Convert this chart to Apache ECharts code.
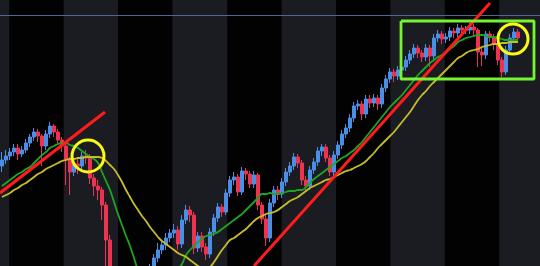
<!DOCTYPE html>
<html>
<head>
<meta charset="utf-8">
<style>
html,body{margin:0;padding:0;background:#020203;}
#c{width:540px;height:266px;}
</style>
<script src="https://cdn.jsdelivr.net/npm/echarts@6/dist/echarts.min.js"></script>
</head>
<body>
<div id="c"></div>
<script>
// ---- data ----
// period labels (one per weekly bar slot)
const categories = Array.from({length: 135}, (_, i) => 'W' + (i + 1));

// candles: [open, close, low, high]
const candles = [
[234,240,228,248],[240,244,236,250],[244,248,240,252],[248,252,244,256],[252,246,240,256],
[246,250,243,254],[250,257,247,261],[257,263,253,266],[263,268,259,272],[268,264,258,271],
[264,254,234,266],[254,266,250,270],[266,274,262,278],[274,268,263,276],[268,260,256,271],
[260,254,248,263],[254,240,215,256],[240,228,205,243],[228,236,224,240],[236,234,226,242],
[234,244,230,248],[244,242,236,250],[242,222,216,246],[222,214,204,226],[214,210,200,220],
[210,195,180,213],[195,160,120,198],[160,115,100,165],[115,100,90,120],[100,80,70,105],
[80,70,60,85],[70,60,50,75],[60,65,55,72],[65,80,60,85],[80,90,75,95],
[90,100,85,105],[100,110,95,116],[110,125,105,136],[125,142,120,146],[142,150,138,157],
[150,155,146,160],[155,162,150,167],[162,167,158,171],[167,170,162,176],[170,156,150,174],
[156,180,152,185],[180,190,176,195],[190,185,178,194],[185,152,146,188],[152,164,148,168],
[164,153,148,168],[153,146,140,157],[146,168,142,172],[168,182,164,186],[182,193,178,197],
[193,188,183,196],[188,207,185,211],[207,220,203,224],[220,223,215,228],[223,208,204,226],
[208,229,205,233],[229,226,220,232],[226,216,212,229],[216,225,212,229],[225,195,190,227],
[195,181,176,198],[181,162,154,185],[162,197,158,201],[197,210,193,214],[210,206,200,214],
[206,218,202,222],[218,228,214,232],[228,234,224,238],[234,243,230,247],[243,237,232,246],
[237,220,215,240],[220,214,208,224],[214,230,210,234],[230,238,226,242],[238,249,234,253],
[249,253,244,256],[253,242,238,256],[242,228,224,245],[228,245,224,249],[245,255,241,259],
[255,266,251,270],[266,272,262,276],[272,282,268,286],[282,294,278,298],[294,296,290,300],
[296,286,280,299],[286,301,282,305],[301,297,292,305],[297,302,293,306],[302,296,290,305],
[296,312,292,316],[312,321,308,325],[321,328,317,332],[328,324,318,331],[324,330,320,334],
[330,333,326,337],[333,340,329,344],[340,346,336,350],[346,352,342,356],[352,347,342,355],
[347,343,338,350],[343,352,339,356],[352,344,333,355],[344,362,340,366],[362,366,358,370],
[366,361,356,369],[361,363,357,367],[363,369,359,373],[369,367,362,372],[367,372,363,376],
[372,370,365,375],[370,370,366,374],[370,373,366,377],[373,370,364,376],[370,348,333,372],
[348,345,334,352],[345,366,341,369],[366,363,358,369],[363,356,350,366],[356,340,335,359],
[340,328,323,343],[328,350,325,354],[350,362,346,366],[362,368,358,372],[368,362,357,371]
];

// fast moving average (green)
const maFast = [
214,217,220,223,226,228,231,233,237,241,245,248,252,254,256,257,257,255,254,252,
249,246,243,241,237,228,219,210,198,186,175,164,154,142,130,120,112,108,106,106,
108,112,118,125,131,136,145,150,154,158,161,164,165,166,168,171,174,177,180,183,
186,190,194,198,202,206,206,207,206,206,207,208,209,209,210,210,213,217,221,224,
227,230,233,236,239,242,244,247,250,254,258,263,268,273,278,283,288,293,297,301,
305,310,315,320,325,329,333,337,340,343,345,348,351,354,358,360,362,363,364,365,
365,364,363,363,362,361,360,360,360,360
];

// slow moving average (yellow)
const maSlow = [
203,205,207,210,212,215,217,220,223,226,228,231,233,235,237,239,240,241,241,242,
242,243,243,243,243,242,239,235,231,225,218,210,203,196,190,184,179,173,168,163,
159,156,153,150,147,145,143,140,137,134,131,130,133,138,144,150,155,160,162,165,
168,171,175,179,182,184,186,187,188,190,193,196,199,201,203,206,209,212,214,216,
218,220,221,223,225,227,229,230,232,234,236,239,243,247,252,256,260,264,268,273,
278,283,288,294,300,305,309,314,318,322,326,330,334,338,342,344,347,349,350,351,
353,354,355,356,356,357,357,358,358,358
];

// annotations, in [bar index, price]
const trendLine1 = [[-0.5, 207], [25.75, 288]];
const trendLine2 = [[63, 134], [122, 397]];
const highlightBox = [[99.75, 379], [133, 379], [133, 321], [99.75, 321], [99.75, 379]];
const circles = [
  {value: [21.5, 244], size: 32},
  {value: [127.75, 361], size: 30}
];
const resistanceLevel = 385;
// alternating shaded periods, [start, end] in bar index
const shadedPeriods = [[-4, 1.8], [15.4, 29.0], [42.6, 56.3], [69.9, 83.5], [97.1, 110.7], [124.3, 138]];

// ---- chart ----
const chart = echarts.init(document.getElementById('c'), null, {renderer: 'canvas'});
chart.setOption({
  animation: false,
  backgroundColor: '#020203',
  grid: {left: 0, right: 0, top: 0, bottom: 0, containLabel: false},
  xAxis: [
    {type: 'category', data: categories, boundaryGap: true, show: false},
    {type: 'value', min: -0.5, max: categories.length - 0.5, show: false}
  ],
  yAxis: {type: 'value', min: 134, max: 400, show: false},
  series: [
    {
      name: 'periods', type: 'line', xAxisIndex: 1, data: [], silent: true,
      markArea: {
        silent: true,
        itemStyle: {color: '#1b1b22'},
        label: {show: false},
        data: shadedPeriods.map(p => [{xAxis: p[0]}, {xAxis: p[1]}])
      },
      markLine: {
        silent: true, symbol: 'none', label: {show: false},
        lineStyle: {color: '#4a6a94', width: 1, type: 'solid'},
        data: [{yAxis: resistanceLevel}]
      }
    },
    {
      name: 'price', type: 'candlestick', data: candles, barWidth: 3, z: 3,
      itemStyle: {color: '#4a8ee6', color0: '#ec3350', borderColor: '#4a8ee6', borderColor0: '#ec3350', borderWidth: 1}
    },
    {
      name: 'MA fast', type: 'line', data: maFast, symbol: 'none', smooth: true, z: 4,
      lineStyle: {color: '#1fa524', width: 1.8}
    },
    {
      name: 'MA slow', type: 'line', data: maSlow, symbol: 'none', smooth: true, z: 4,
      lineStyle: {color: '#c6bd2a', width: 1.8}
    },
    {
      name: 'trend 1', type: 'line', xAxisIndex: 1, data: trendLine1, symbol: 'none', z: 5,
      lineStyle: {color: '#ff1c1c', width: 3}
    },
    {
      name: 'trend 2', type: 'line', xAxisIndex: 1, data: trendLine2, symbol: 'none', z: 5,
      lineStyle: {color: '#ff1c1c', width: 3}
    },
    {
      name: 'box', type: 'line', xAxisIndex: 1, data: highlightBox, symbol: 'none', z: 6,
      lineStyle: {color: '#74f530', width: 2.8}
    },
    {
      name: 'circles', type: 'scatter', xAxisIndex: 1, z: 7,
      data: circles.map(c => ({value: c.value, symbolSize: c.size})),
      itemStyle: {color: 'rgba(0,0,0,0)', borderColor: '#fafa14', borderWidth: 3, opacity: 1}
    }
  ]
});
</script>
</body>
</html>
